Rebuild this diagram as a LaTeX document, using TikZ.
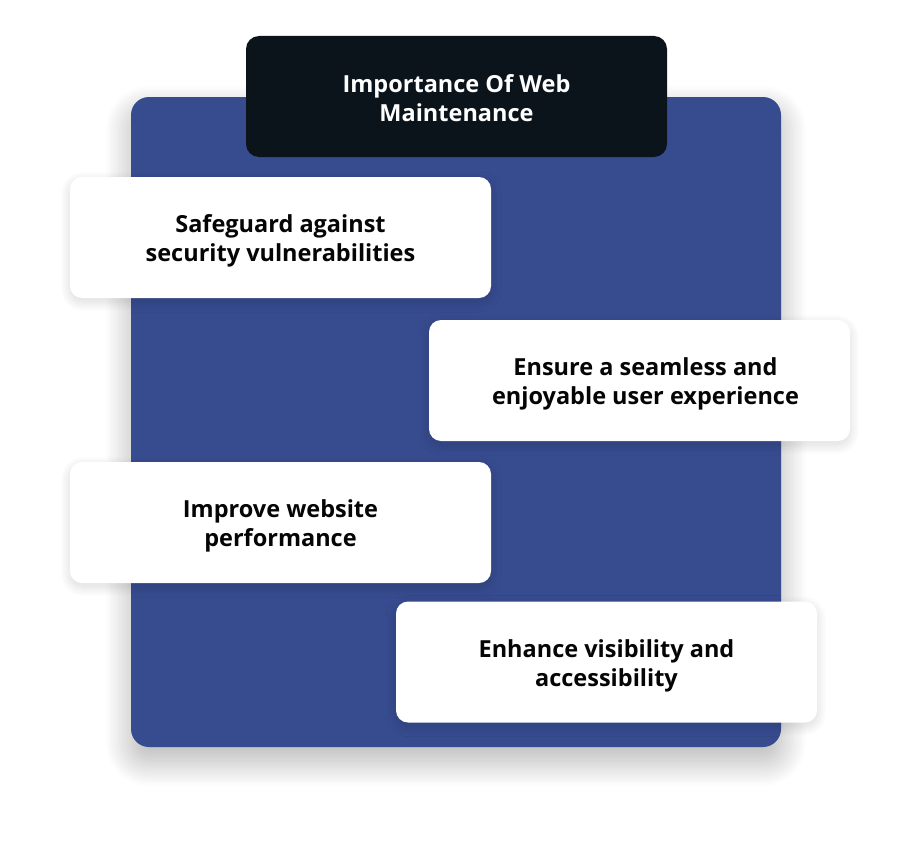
\documentclass[tikz,border=0pt]{standalone}
\usepackage{fontspec}
\setmainfont{Open Sans}
\usetikzlibrary{shadows.blur}
\definecolor{mainblue}{HTML}{374B8F}
\definecolor{darkbox}{HTML}{0A141A}
\definecolor{txt}{HTML}{050505}
\tikzset{
  labelfont/.style={font=\fontsize{23.5}{29}\selectfont\bfseries},
  card/.style={fill=white, rounded corners=12pt, minimum width=421pt, minimum height=121pt,
    inner sep=0pt,
    blur shadow={shadow xshift=0pt, shadow yshift=-4pt, shadow blur radius=10pt, shadow blur steps=20, shadow opacity=15}},
  cardtext/.style={inner sep=0pt, align=center, text=txt, labelfont},
  titlebox/.style={fill=darkbox, rounded corners=13pt, minimum width=421pt, minimum height=121pt,
    inner sep=0pt},
  titletext/.style={inner sep=0pt, align=center, text=white, labelfont},
  panel/.style={fill=mainblue, rounded corners=18pt, minimum width=650pt, minimum height=650pt,
    inner sep=0pt, blur shadow={shadow xshift=0pt, shadow yshift=-14pt, shadow blur radius=26pt, shadow blur steps=30, shadow opacity=30}}
}
\begin{document}
\begin{tikzpicture}[x=1pt, y=-1pt]
\useasboundingbox (0,0) rectangle (912,843);
\node[panel] (panel) at (456,422) {};
\node[titlebox] (title) at (456.5,96.5) {};
\node[titletext] (tt) at ([yshift=-1.5pt]title.center) {Importance Of Web\\Maintenance};
\node[card] (c1) at (280.5,237.5) {};
\node[cardtext] (t1) at ([yshift=-3.5pt]c1.center) {Safeguard against\\security vulnerabilities};
\node[card] (c2) at (639.5,380.5) {};
\node[cardtext] (t2) at ([xshift=6pt,yshift=-3.5pt]c2.center) {Ensure a seamless and\\enjoyable user experience};
\node[card] (c3) at (280.5,522.5) {};
\node[cardtext] (t3) at ([yshift=-3.5pt]c3.center) {Improve website\\performance};
\node[card] (c4) at (606.5,662) {};
\node[cardtext] (t4) at ([yshift=-3.5pt]c4.center) {Enhance visibility and\\accessibility};
\end{tikzpicture}
\end{document}
